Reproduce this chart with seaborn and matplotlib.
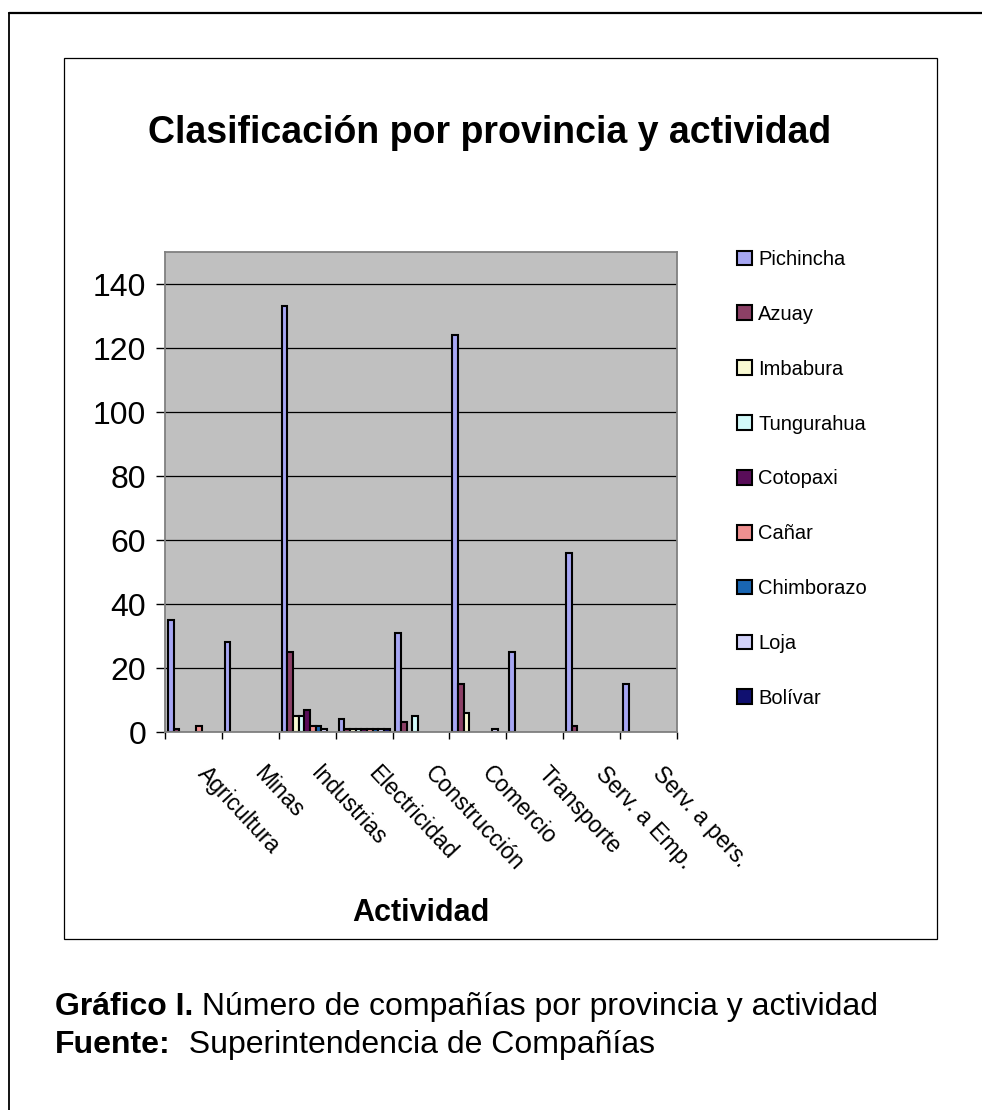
import numpy as np
import pandas as pd
import seaborn as sns
import matplotlib.pyplot as plt
from matplotlib.lines import Line2D
from matplotlib.patches import Rectangle

# datos
actividades = ['Agricultura', 'Minas', 'Industrias', 'Electricidad', 'Construcción',
               'Comercio', 'Transporte', 'Serv. a Emp.', 'Serv. a pers.']
provincias = ['Pichincha', 'Azuay', 'Imbabura', 'Tungurahua', 'Cotopaxi',
              'Cañar', 'Chimborazo', 'Loja', 'Bolívar']

pichincha = [35, 28, 133, 4, 31, 124, 25, 56, 15]
azuay = [1, 0, 25, 1, 3, 15, 0, 2, 0]
imbabura = [0, 0, 5, 1, 0, 6, 0, 0, 0]
tungurahua = [0, 0, 5, 1, 5, 0, 0, 0, 0]
cotopaxi = [0, 0, 7, 1, 0, 0, 0, 0, 0]
canar = [2, 0, 2, 1, 0, 0, 0, 0, 0]
chimborazo = [0, 0, 2, 1, 0, 0, 0, 0, 0]
loja = [0, 0, 1, 1, 0, 1, 0, 0, 0]
bolivar = [0, 0, 0, 1, 0, 0, 0, 0, 0]

colores = ['#9999FF', '#993366', '#FFFFCC', '#CCFFFF', '#660066',
           '#FF8080', '#0066CC', '#CCCCFF', '#000080']

series = [pichincha, azuay, imbabura, tungurahua, cotopaxi, canar, chimborazo, loja, bolivar]
rows = []
for prov, vals in zip(provincias, series):
    for act, v in zip(actividades, vals):
        rows.append({'Actividad': act, 'Provincia': prov, 'Compañías': v})
df = pd.DataFrame(rows)
df = df[df['Compañías'] > 0]  # Excel no dibuja barras en cero

sns.set_theme(style='white')
plt.rcParams['font.family'] = ['Liberation Sans', 'DejaVu Sans']
plt.rcParams['text.color'] = 'black'
plt.rcParams['xtick.color'] = 'black'
plt.rcParams['ytick.color'] = 'black'
plt.rcParams['axes.labelcolor'] = 'black'

W, H = 982, 1110
fig = plt.figure(figsize=(W / 100, H / 100), dpi=100)
fig.patch.set_facecolor('white')

# marco de la pagina y del grafico
fig.add_artist(Line2D([9 / W, 9 / W], [0, 1 - 13 / H], color='black', lw=1.3, transform=fig.transFigure))
fig.add_artist(Line2D([9 / W, 1], [1 - 13 / H, 1 - 13 / H], color='black', lw=1.6, transform=fig.transFigure))
fig.add_artist(Rectangle((64 / W, 1 - 939 / H), (937 - 64) / W, (939 - 58) / H, fill=False,
                         edgecolor='black', lw=0.9, transform=fig.transFigure))

ax = fig.add_axes([165 / W, 1 - 732 / H, 512 / W, 480 / H])
sns.barplot(data=df, x='Actividad', y='Compañías', hue='Provincia', order=actividades,
            hue_order=provincias, palette=colores, width=0.9, edgecolor='black',
            linewidth=1.5, ax=ax)

ax.set_facecolor('#C0C0C0')
ax.set_ylim(0, 150)
ax.set_xlim(-0.5, 8.5)
ax.set_yticks(range(0, 141, 20))
ax.yaxis.grid(True, color='black', lw=0.9)
ax.xaxis.grid(False)
ax.set_axisbelow(True)
for s in ax.spines.values():
    s.set_color('#808080')
    s.set_linewidth(1.3)

# etiquetas de categoria giradas, ancladas a la derecha del centro
ax.set_xticks(range(len(actividades)))
ax.set_xticklabels([])
for i, act in enumerate(actividades):
    ax.annotate(act, xy=(i, 0), xycoords=('data', 'axes fraction'), xytext=(16, -30),
                textcoords='offset pixels', rotation=-47, ha='left', va='top',
                rotation_mode='anchor', fontsize=16.5)
ax.set_xticks(np.arange(-0.5, len(actividades), 1), minor=True)
ax.tick_params(axis='x', which='major', length=0)
ax.tick_params(axis='x', which='minor', length=4.7, width=1, color='black', direction='out', bottom=True)
ax.tick_params(axis='y', length=6.5, width=1, color='black', direction='out', left=True, pad=7, labelsize=23)
ax.set_xlabel('')
ax.set_ylabel('')

sns.move_legend(ax, 'upper left', bbox_to_anchor=(737 / W, 1 - 250 / H), bbox_transform=fig.transFigure,
                frameon=False, title=None, fontsize=14.5, labelspacing=1.78, handlelength=0.75,
                handleheight=0.75, handletextpad=0.3, borderpad=0, borderaxespad=0)

fig.text(490 / W, 1 - 133 / H, 'Clasificación por provincia y actividad', ha='center', va='center',
         fontsize=27, fontweight='bold')
fig.text(421 / W, 1 - 913 / H, 'Actividad', ha='center', va='center', fontsize=22, fontweight='bold')


def caption(y, bold, regular):
    t = fig.text(55 / W, 1 - y / H, bold, fontsize=23, fontweight='bold', va='baseline')
    fig.canvas.draw()
    bb = t.get_window_extent()
    fig.text(bb.x1 / fig.bbox.width, 1 - y / H, regular, fontsize=23, va='baseline')


caption(1015, 'Gráfico I.', ' Número de compañías por provincia y actividad')
caption(1053, 'Fuente:', '  Superintendencia de Compañías')

fig.savefig('out.png', dpi=100)
